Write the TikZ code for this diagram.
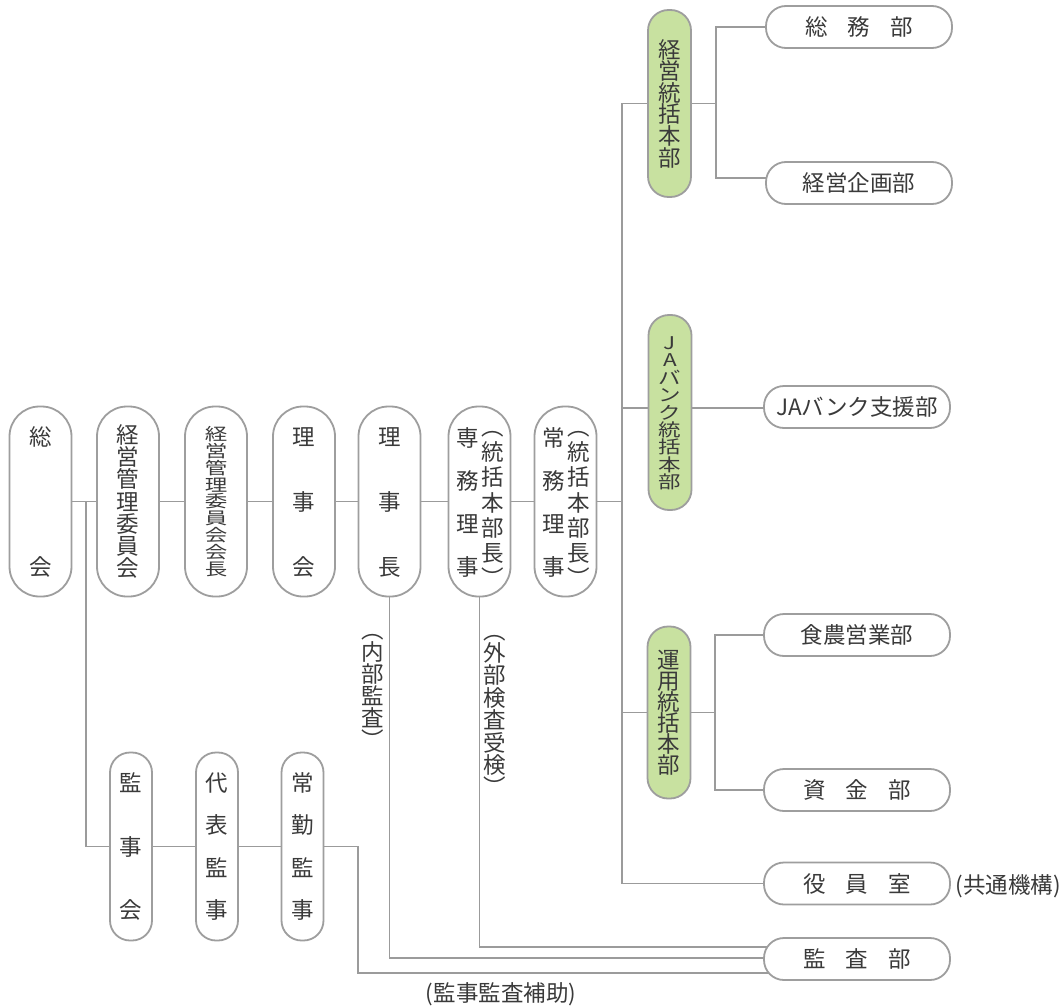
\documentclass[tikz,border=0pt]{standalone}
\usepackage{fontspec}
\usepackage{graphicx}
\setmainfont{Noto Sans CJK JP}
\usetikzlibrary{backgrounds}
\definecolor{lc}{HTML}{9B9B9B}
\definecolor{bc}{HTML}{9E9E9E}
\definecolor{gf}{HTML}{C8E1A0}
\definecolor{tc}{HTML}{3A3A3A}
\newcommand\vc[1]{\hbox to 0pt{\hss\vrule height.88em depth.12em width0pt\relax#1\hss}}
\newcommand\vcol[2]{\vbox{\baselineskip=#1\relax\lineskiplimit=-16000pt\relax\lineskip=0pt\relax#2}}
\tikzset{
 conn/.style={draw=lc, line width=1.8pt},
 base/.style={draw=bc, line width=1.8pt, fill=white, text=tc, inner sep=0pt, font=\fontsize{22.5}{27}\selectfont},
 vpill/.style={base, minimum width=62pt, minimum height=190pt, rounded corners=30pt},
 npill/.style={base, minimum width=42pt, minimum height=188pt, rounded corners=20pt},
 gpill/.style={base, fill=gf, minimum width=43pt, rounded corners=20.5pt},
 hpill/.style={base, minimum width=186pt, minimum height=42pt, rounded corners=20pt},
 lbl/.style={text=tc, inner sep=0pt, font=\fontsize{22.5}{27}\selectfont},
}
\begin{document}
\begin{tikzpicture}[x=1pt,y=-1pt]
\useasboundingbox (0,0) rectangle (1063,1006);
% main row
\node[vpill] (soukai) at (40.5,501.5) {\vcol{130pt}{\vc{総}\vc{会}}};
\node[vpill] (keikan) at (128,501.5) {\vcol{22.3pt}{\vc{経}\vc{営}\vc{管}\vc{理}\vc{委}\vc{員}\vc{会}}};
\node[vpill] (kaichou) at (216,501.5) {\scalebox{1}[0.75]{\vcol{22.5pt}{\vc{経}\vc{営}\vc{管}\vc{理}\vc{委}\vc{員}\vc{会}\vc{会}\vc{長}}}};
\node[vpill] (rijikai) at (304,501.5) {\vcol{65pt}{\vc{理}\vc{事}\vc{会}}};
\node[vpill] (rijichou) at (389.5,501.5) {\vcol{65pt}{\vc{理}\vc{事}\vc{長}}};
\node[vpill] (senmu) at (479.5,501.5) {};
\node[lbl] (senmua) at (468,502.5) {\vcol{43pt}{\vc{専}\vc{務}\vc{理}\vc{事}}};
\node[lbl] (senmub) at (493,502.5) {\vcol{25.25pt}{\vc{︵}\vc{統}\vc{括}\vc{本}\vc{部}\vc{長}\vc{︶}}};
\node[vpill] (joumu) at (565.5,501.5) {};
\node[lbl] (joumua) at (554,502.5) {\vcol{43pt}{\vc{常}\vc{務}\vc{理}\vc{事}}};
\node[lbl] (joumub) at (579,502.5) {\vcol{25.25pt}{\vc{︵}\vc{統}\vc{括}\vc{本}\vc{部}\vc{長}\vc{︶}}};
% green headquarters
\node[gpill, minimum height=187pt] (keiei) at (669.5,103.5) {\vcol{21.6pt}{\vc{経}\vc{営}\vc{統}\vc{括}\vc{本}\vc{部}}};
\node[gpill, minimum height=195pt] (jabank) at (670,412.5) {\scalebox{1}[0.78]{\vcol{22.3pt}{\vc{J}\vc{A}\vc{バ}\vc{ン}\vc{ク}\vc{統}\vc{括}\vc{本}\vc{部}}}};
\node[gpill, minimum height=172pt] (unyou) at (669,712.5) {\vcol{21pt}{\vc{運}\vc{用}\vc{統}\vc{括}\vc{本}\vc{部}}};
% departments
\node[hpill] (soumu) at (859,27) {総\hspace{20pt}務\hspace{20pt}部};
\node[hpill] (kikaku) at (859,183) {経営企画部};
\node[hpill] (shien) at (857,407) {JAバンク支援部};
\node[hpill] (shokunou) at (857,635) {食農営業部};
\node[hpill] (shikin) at (857,790) {資\hspace{20pt}金\hspace{20pt}部};
\node[hpill] (yakuin) at (857,883.5) {役\hspace{20pt}員\hspace{20pt}室};
\node[hpill] (kansa) at (857,959) {監\hspace{20pt}査\hspace{20pt}部};
% auditors
\node[npill] (kanjikai) at (131,846.5) {\vcol{63.5pt}{\vc{監}\vc{事}\vc{会}}};
\node[npill] (daihyou) at (217,846.5) {\vcol{42.3pt}{\vc{代}\vc{表}\vc{監}\vc{事}}};
\node[npill] (joukin) at (302.5,846.5) {\vcol{42.3pt}{\vc{常}\vc{勤}\vc{監}\vc{事}}};
% labels
\node[lbl] (naibu) at (373,685) {\vcol{22pt}{\vc{︵}\vc{内}\vc{部}\vc{監}\vc{査}\vc{︶}}};
\node[lbl] (gaibu) at (495,709) {\vcol{22.4pt}{\vc{︵}\vc{外}\vc{部}\vc{検}\vc{査}\vc{受}\vc{検}\vc{︶}}};
\node[lbl] (hojo) at (501,994) {(監事監査補助)};
\node[lbl] (kyoutsu) at (1008,886) {(共通機構)};
% coordinates
\coordinate (j1) at (86,501.5);
\coordinate (t1) at (622,103.5);
\coordinate (t2) at (622,408);
\coordinate (t3) at (622,501.5);
\coordinate (t4) at (622,712.5);
\coordinate (t5) at (622,883.5);
\coordinate (r1) at (716,103.5);
\coordinate (r1b) at (716,178);
\coordinate (r2) at (715,712.5);
\coordinate (b1) at (479.5,947);
\coordinate (b2) at (389.5,958);
\coordinate (b3) at (358,973);
\begin{scope}[on background layer]
\fill[white] (0,0) rectangle (1063,1006);
\draw[conn] (soukai) -- (keikan) -- (kaichou) -- (rijikai) -- (rijichou) -- (senmu) -- (joumu) -- (t3);
\draw[conn] (j1) |- (kanjikai);
\draw[conn] (kanjikai) -- (daihyou) -- (joukin);
\draw[conn] (joukin) -| (b3) -- (b3 -| kansa);
\draw[conn] (rijichou) -- (b2) -- (b2 -| kansa);
\draw[conn] (senmu) -- (b1) -- (b1 -| kansa);
\draw[conn] (t1) -- (t5);
\draw[conn] (t1) -- (keiei);
\draw[conn] (t2) -- (t2 -| shien);
\draw[conn] (t4) -- (unyou);
\draw[conn] (t5) -- (t5 -| yakuin);
\draw[conn] (keiei) -- (r1);
\draw[conn] (soumu) -| (r1b) -- (r1b -| kikaku);
\draw[conn] (unyou) -- (r2);
\draw[conn] (shokunou) -| (r2) |- (shikin);
\end{scope}
\end{tikzpicture}
\end{document}
